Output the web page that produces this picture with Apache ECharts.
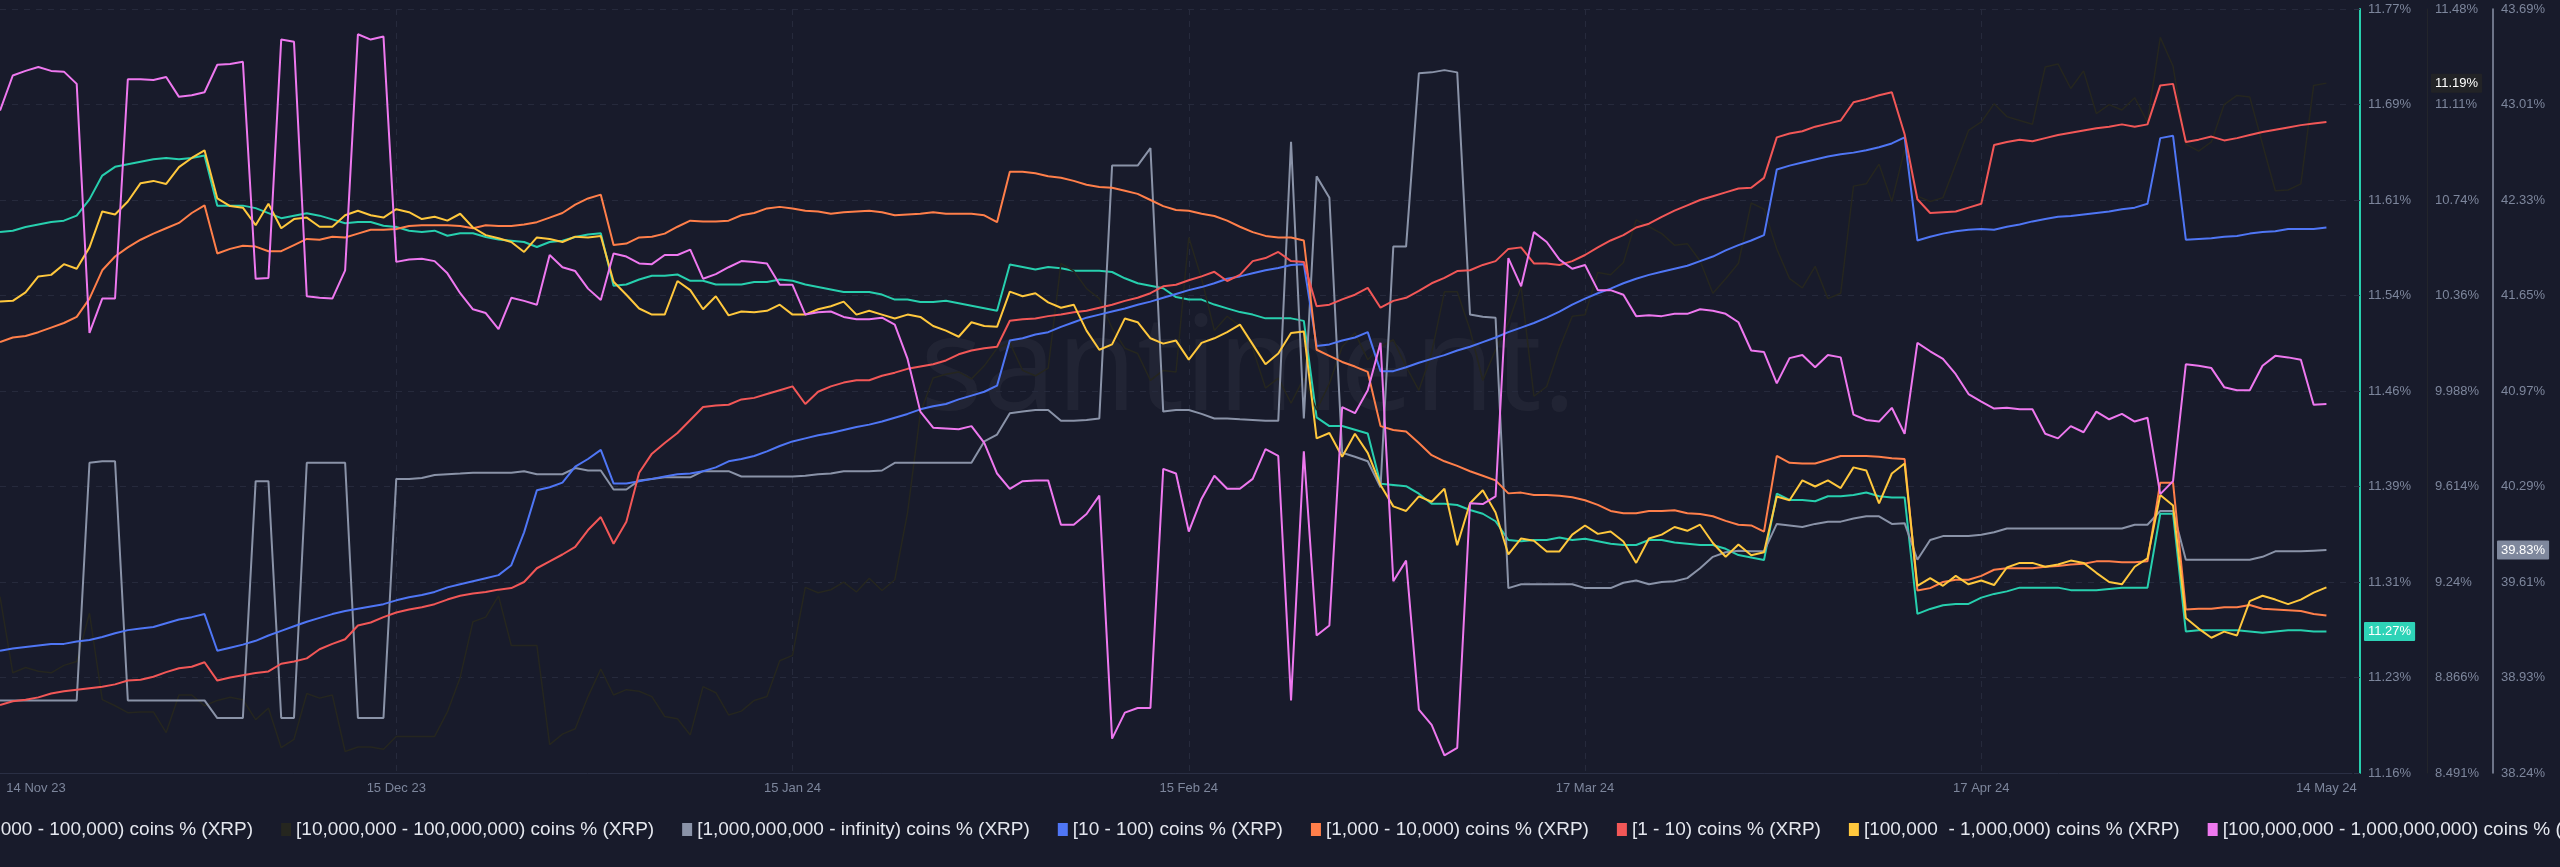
<!DOCTYPE html>
<html><head><meta charset="utf-8">
<script src="https://cdn.jsdelivr.net/npm/echarts@6/dist/echarts.min.js"></script>
<style>html,body{margin:0;padding:0;background:#181b2b;overflow:hidden}#c{width:2560px;height:867px}</style>
</head><body><div id="c"></div>
<script>
// ---------- categories (daily, from 14 Nov 2023) ----------
const START = Date.UTC(2023, 10, 14);
const DAY_COUNT = 185;
const categories = [];
for (let i = 0; i < DAY_COUNT; i++) {
  const d = new Date(START + i * 86400000);
  categories.push(d.toISOString().slice(0, 10));
}
const xTickDays = [0, 31, 62, 93, 124, 155, 182];
const xTickLabels = ['14 Nov 23', '15 Dec 23', '15 Jan 24', '15 Feb 24', '17 Mar 24', '17 Apr 24', '14 May 24'];

// ---------- axis tick labels ----------
const tealTicks = ['11.16%', '11.23%', '11.31%', '11.39%', '11.46%', '11.54%', '11.61%', '11.69%', '11.77%'];
const darkTicks = ['8.491%', '8.866%', '9.24%', '9.614%', '9.988%', '10.36%', '10.74%', '11.11%', '11.48%'];
const grayTicks = ['38.24%', '38.93%', '39.61%', '40.29%', '40.97%', '41.65%', '42.33%', '43.01%', '43.69%'];

// ---------- series names ----------
const names = [
  '[10,000 - 100,000) coins % (XRP)',
  '[10,000,000 - 100,000,000) coins % (XRP)',
  '[1,000,000,000 - infinity) coins % (XRP)',
  '[10 - 100) coins % (XRP)',
  '[1,000 - 10,000) coins % (XRP)',
  '[1 - 10) coins % (XRP)',
  '[100,000  - 1,000,000) coins % (XRP)',
  '[100,000,000 - 1,000,000,000) coins % (XRP)'
];

// ---------- values (% of supply, visible axes) ----------
const teal = [
11.592,11.593,11.596,11.598,11.600,11.601,11.605,11.618,11.637,11.644,
11.646,11.648,11.650,11.651,11.650,11.651,11.653,11.613,11.613,11.613,
11.611,11.607,11.603,11.605,11.607,11.605,11.602,11.599,11.600,11.600,
11.597,11.596,11.593,11.592,11.593,11.589,11.591,11.591,11.588,11.586,
11.585,11.584,11.580,11.584,11.585,11.588,11.590,11.591,11.549,11.550,
11.554,11.557,11.557,11.558,11.553,11.553,11.550,11.550,11.550,11.552,
11.552,11.554,11.553,11.550,11.548,11.546,11.544,11.544,11.544,11.542,
11.538,11.538,11.536,11.536,11.537,11.535,11.533,11.531,11.529,11.566,
11.564,11.562,11.564,11.563,11.561,11.561,11.561,11.560,11.555,11.551,
11.549,11.547,11.540,11.538,11.538,11.534,11.531,11.528,11.526,11.523,
11.523,11.523,11.521,11.444,11.437,11.437,11.434,11.431,11.391,11.390,
11.389,11.383,11.375,11.375,11.374,11.370,11.367,11.361,11.346,11.345,
11.346,11.346,11.348,11.346,11.347,11.345,11.343,11.342,11.342,11.346,
11.346,11.344,11.343,11.342,11.342,11.339,11.334,11.332,11.330,11.383,
11.378,11.378,11.377,11.381,11.381,11.382,11.384,11.381,11.380,11.380,
11.287,11.291,11.294,11.295,11.295,11.300,11.303,11.305,11.308,11.308,
11.308,11.308,11.306,11.306,11.306,11.307,11.308,11.308,11.308,11.367,
11.367,11.273,11.274,11.274,11.274,11.274,11.273,11.272,11.273,11.274,
11.274,11.273,11.273];

const dark = [
9.181,8.883,8.904,8.889,8.883,8.912,8.927,9.116,8.778,8.754,
8.727,8.730,8.730,8.649,8.796,8.796,8.754,8.775,8.787,8.778,
8.700,8.745,8.590,8.623,8.802,8.784,8.796,8.575,8.593,8.593,
8.584,8.634,8.634,8.634,8.634,8.730,8.865,9.083,9.101,9.184,
8.990,8.990,8.990,8.602,8.643,8.664,8.790,8.898,8.796,8.817,
8.811,8.790,8.712,8.703,8.640,8.829,8.805,8.718,8.733,8.775,
8.790,8.930,8.951,9.217,9.196,9.208,9.238,9.199,9.253,9.205,
9.247,9.510,9.899,10.036,10.051,10.060,10.033,10.084,10.153,10.174,
10.066,10.045,10.075,10.485,10.455,10.386,10.347,10.231,10.153,10.132,
10.027,10.066,10.060,10.586,10.425,10.222,10.278,10.240,10.153,9.997,
10.036,9.938,10.036,9.911,10.015,10.159,10.213,10.108,10.159,10.186,
10.081,9.988,10.135,10.374,10.374,10.225,10.027,10.147,10.252,10.395,
9.965,10.003,10.153,10.278,10.284,10.449,10.440,10.488,10.655,10.628,
10.601,10.556,10.562,10.494,10.368,10.425,10.485,10.721,10.697,10.541,
10.425,10.389,10.473,10.347,10.368,10.787,10.796,10.873,10.727,10.930,
10.748,10.727,10.742,10.873,11.005,11.038,11.109,11.059,11.044,11.029,
11.253,11.265,11.169,11.238,11.071,11.106,11.085,11.133,11.038,11.369,
11.256,10.951,10.924,10.960,11.106,11.142,11.136,10.951,10.769,10.772,
10.796,11.181,11.190];

const gray = [
38.758,38.758,38.758,38.758,38.758,38.758,38.758,40.453,40.464,40.464,
38.758,38.758,38.758,38.758,38.758,38.758,38.758,38.632,38.632,38.632,
40.322,40.322,38.632,38.632,40.453,40.453,40.453,40.453,38.632,38.632,
38.632,40.338,40.338,40.344,40.366,40.371,40.376,40.382,40.382,40.382,
40.382,40.393,40.371,40.371,40.371,40.415,40.398,40.398,40.262,40.262,
40.327,40.338,40.349,40.349,40.349,40.393,40.393,40.393,40.355,40.355,
40.355,40.355,40.355,40.360,40.371,40.376,40.393,40.393,40.393,40.398,
40.453,40.453,40.453,40.453,40.453,40.453,40.453,40.605,40.654,40.807,
40.818,40.829,40.829,40.752,40.752,40.758,40.769,42.573,42.573,42.573,
42.698,40.818,40.829,40.829,40.802,40.769,40.769,40.763,40.758,40.752,
40.752,42.742,40.769,42.496,42.344,40.524,40.496,40.464,40.278,41.995,
41.995,43.232,43.238,43.254,43.238,41.510,41.494,41.488,39.559,39.586,
39.586,39.586,39.586,39.586,39.559,39.559,39.559,39.597,39.613,39.586,
39.603,39.608,39.630,39.701,39.782,39.815,39.826,39.821,39.821,40.017,
40.006,39.995,40.017,40.033,40.033,40.055,40.071,40.071,40.017,40.022,
39.761,39.902,39.930,39.930,39.930,39.940,39.957,39.984,39.984,39.984,
39.984,39.984,39.984,39.984,39.984,39.984,39.984,40.011,40.011,40.109,
40.109,39.761,39.761,39.761,39.761,39.761,39.761,39.782,39.821,39.821,
39.821,39.826,39.830];

// ---------- series whose own axes are hidden (relative level, 0-100 of their axis) ----------
const blue = [
16.0,16.3,16.5,16.7,16.9,16.9,17.2,17.4,17.8,18.3,
18.7,18.9,19.1,19.6,20.1,20.4,20.8,16.0,16.4,16.8,
17.3,18.0,18.6,19.2,19.8,20.3,20.8,21.2,21.5,21.8,
22.1,22.6,23.0,23.3,23.7,24.3,24.7,25.1,25.5,25.9,
27.2,31.5,37.0,37.4,38.0,40.1,41.1,42.3,37.9,37.9,
38.2,38.5,38.8,39.1,39.2,39.5,40.0,40.8,41.1,41.5,
42.1,42.8,43.4,43.8,44.2,44.5,44.9,45.3,45.6,46.0,
46.5,47.0,47.6,48.0,48.3,48.9,49.4,49.9,50.7,56.6,
56.9,57.4,57.7,58.4,59.0,59.6,60.0,60.4,60.8,61.3,
61.7,62.2,62.7,63.2,63.6,64.1,64.7,65.0,65.4,65.8,
66.1,66.5,66.6,55.9,56.1,56.6,57.0,57.7,52.6,52.6,
53.1,53.7,54.2,54.7,55.3,55.8,56.4,57.0,57.7,58.3,
58.9,59.6,60.4,61.3,62.1,62.8,63.4,64.1,64.7,65.2,
65.6,66.0,66.4,67.0,67.6,68.4,69.1,69.7,70.4,79.0,
79.5,79.9,80.3,80.7,81.0,81.2,81.5,81.9,82.4,83.2,
69.7,70.2,70.6,70.9,71.1,71.2,71.1,71.5,71.8,72.2,
72.5,72.8,72.9,73.1,73.3,73.5,73.8,74.0,74.5,83.1,
83.4,69.8,69.9,70.0,70.2,70.3,70.6,70.8,70.9,71.2,
71.2,71.2,71.4];

const orange = [
56.4,57.0,57.2,57.7,58.3,58.9,59.7,62.1,65.8,67.6,
68.8,69.8,70.6,71.3,72.0,73.3,74.3,68.0,68.6,69.0,
68.9,68.3,68.3,69.1,69.9,69.8,70.2,70.1,70.6,71.1,
71.1,71.2,71.6,71.7,71.7,71.7,71.6,71.3,71.7,71.6,
71.6,71.8,72.1,72.7,73.3,74.4,75.2,75.7,69.1,69.3,
70.1,70.2,70.6,71.5,72.3,72.2,72.2,72.3,73.0,73.3,
73.9,74.1,73.9,73.6,73.5,73.2,73.4,73.5,73.6,73.4,
73.0,73.1,73.2,73.4,73.2,73.2,73.2,73.0,72.1,78.7,
78.7,78.5,78.1,77.9,77.5,77.0,76.7,76.6,76.2,75.8,
75.0,74.2,73.7,73.6,73.2,72.9,72.3,71.5,70.8,70.3,
70.1,70.1,69.7,55.4,54.6,53.8,53.2,52.5,45.4,44.9,
44.7,43.2,41.6,40.8,40.2,39.5,38.9,38.3,36.6,36.7,
36.4,36.4,36.3,36.1,35.7,35.1,34.3,34.0,34.0,34.3,
34.3,34.4,34.0,33.9,33.6,33.0,32.5,32.4,31.6,41.5,
40.6,40.5,40.5,41.0,41.5,41.5,41.5,41.4,41.2,41.1,
23.9,24.2,25.0,25.3,25.3,25.8,26.6,26.8,26.8,26.8,
27.0,27.1,27.3,27.4,27.7,27.7,27.6,27.6,27.7,38.0,
38.0,21.4,21.5,21.5,21.7,21.7,22.0,21.5,21.4,21.3,
21.2,20.8,20.6];

const red = [
8.9,9.4,9.6,9.9,10.4,10.7,10.9,11.1,11.3,11.6,
12.1,12.2,12.6,13.2,13.7,13.9,14.5,12.1,12.5,12.8,
13.1,13.3,14.3,14.6,15.0,16.2,16.9,17.5,19.3,19.7,
20.4,21.0,21.4,21.7,22.1,22.7,23.2,23.5,23.7,24.0,
24.2,25.0,26.8,27.7,28.6,29.6,31.8,33.5,30.0,32.9,
39.3,41.8,43.2,44.5,46.2,47.9,48.1,48.2,48.9,49.1,
49.6,50.1,50.6,48.3,49.9,50.6,51.1,51.4,51.4,52.0,
52.4,52.9,53.2,53.5,54.0,54.8,55.3,55.6,55.8,59.2,
59.4,59.5,59.8,60.0,60.3,60.5,60.9,61.3,61.8,62.2,
62.8,63.7,63.9,64.5,65.0,65.6,64.4,65.2,67.0,67.4,
68.2,67.0,66.9,61.1,61.3,62.0,62.6,63.5,60.9,61.8,
62.2,63.1,64.1,64.8,65.7,65.8,66.5,67.0,68.6,68.8,
66.7,66.7,66.5,67.0,67.8,68.8,69.7,70.4,71.4,71.9,
72.8,73.6,74.3,75.0,75.5,76.0,76.5,76.6,77.9,83.2,
83.7,84.0,84.6,85.0,85.4,87.8,88.2,88.7,89.1,83.6,
75.1,73.3,73.4,73.5,74.0,74.5,82.2,82.6,82.9,82.7,
83.1,83.5,83.8,84.1,84.4,84.6,84.9,84.6,84.9,90.0,
90.2,82.6,82.9,83.3,82.8,83.1,83.5,83.9,84.2,84.5,
84.8,85.0,85.2];

const yellow = [
61.7,61.8,62.9,65.0,65.2,66.6,66.0,68.8,73.5,73.1,
74.8,77.2,77.5,77.1,79.3,80.5,81.5,75.2,74.2,74.0,
71.7,74.5,71.3,72.5,72.7,71.5,71.5,73.0,73.6,73.0,
72.7,73.8,73.4,72.5,72.8,72.3,73.2,71.4,70.4,70.0,
69.5,68.2,70.1,69.9,69.5,70.2,70.1,70.3,64.3,62.6,
60.8,60.0,60.0,64.4,63.2,60.7,62.4,59.9,60.4,60.3,
60.5,61.3,60.0,60.0,60.7,61.1,61.7,60.0,60.5,60.0,
59.5,60.0,59.7,58.5,57.9,57.1,59.0,58.5,58.4,63.0,
62.4,62.8,61.6,60.9,61.3,57.9,55.4,56.1,59.5,59.0,
56.9,56.2,56.6,54.1,56.3,56.9,57.7,58.7,56.1,53.5,
54.9,57.6,57.8,43.8,44.5,41.4,44.4,41.9,37.7,34.9,
34.3,36.2,35.5,37.2,29.8,35.3,37.0,34.1,28.6,30.7,
30.4,29.0,29.0,31.2,32.4,31.3,31.6,30.3,27.5,30.7,
31.2,32.2,31.7,32.5,30.1,28.3,29.9,28.5,28.9,36.2,
35.7,38.3,37.5,38.3,37.3,40.0,39.6,35.3,39.2,40.5,
24.5,25.5,24.5,25.8,24.7,25.2,24.6,26.9,27.5,27.5,
27.0,27.3,27.8,27.5,26.2,25.0,24.7,27.0,28.1,36.4,
35.0,20.3,18.9,17.7,18.5,18.0,22.5,23.2,22.7,22.1,
22.7,23.6,24.3];

const pink = [
86.7,91.3,91.9,92.4,91.9,91.8,90.2,57.6,62.1,62.1,
90.8,90.8,90.7,91.1,88.5,88.7,89.1,92.7,92.8,93.1,
64.7,64.8,96.0,95.7,62.4,62.2,62.1,65.8,96.7,96.0,
96.4,66.9,67.2,67.3,67.0,65.4,62.8,60.7,60.2,58.1,
62.2,61.8,61.3,67.8,66.2,65.7,63.4,61.9,68.0,67.6,
66.7,66.6,67.8,67.8,68.5,64.7,65.3,66.2,67.0,66.9,
66.7,63.9,63.9,60.0,60.3,60.4,59.7,59.4,59.4,59.6,
58.7,54.2,47.3,45.2,45.1,45.0,45.4,43.2,39.2,37.2,
38.2,38.3,38.3,32.5,32.5,33.9,36.3,4.5,7.9,8.5,
8.5,39.8,39.2,31.6,35.9,38.9,37.2,37.2,38.5,42.4,
41.5,9.5,42.1,18.0,19.3,47.9,47.1,50.1,56.3,25.1,
27.8,8.3,6.3,2.3,3.3,35.3,35.2,36.2,67.4,63.7,
70.8,69.5,67.2,66.0,66.5,63.2,63.2,62.6,59.8,59.9,
59.8,60.1,60.1,60.7,60.5,60.1,59.0,55.3,55.1,51.0,
54.3,54.7,53.1,54.7,54.4,46.9,46.2,46.0,47.8,44.4,
56.3,55.2,54.2,52.2,49.6,48.6,47.7,47.8,47.6,47.6,
44.4,43.8,45.4,44.6,47.3,46.3,47.0,46.0,46.5,36.5,
38.2,53.5,53.3,53.0,50.5,50.1,50.1,53.3,54.6,54.4,
54.1,48.2,48.3];

// ---------- styling ----------
const colors = ['#27cfae', '#25261f', '#8a93a8', '#4f76f5', '#ff7f4a', '#f25757', '#ffc83d', '#ee78ef'];
const BG = '#181b2b';
const FONT = '"Liberation Sans", Arial, Helvetica, sans-serif';
const LABEL_COLOR = '#7d869c';
const GRID_LINE = '#262a3c';

function tickFormatter(min, step, labels) {
  return function (v) {
    const i = Math.round((v - min) / step);
    return labels[i] !== undefined ? labels[i] : '';
  };
}
function lastPointer(value, digits, bg, fg) {
  return {
    show: true, type: 'line', value: value, status: 'show', triggerTooltip: false,
    lineStyle: { opacity: 0 },
    label: {
      show: true, backgroundColor: bg, color: fg, fontSize: 13, fontFamily: FONT,
      padding: [3, 4, 3, 4], margin: 4, borderRadius: 1,
      formatter: function (p) { return Number(p.value).toFixed(digits) + '%'; }
    },
    handle: { show: false }
  };
}
function visAxis(min, max, labels, offset, lineColor, lineWidth, extra) {
  const step = (max - min) / 8;
  return Object.assign({
    type: 'value', position: 'right', offset: offset, min: min, max: max, interval: step,
    axisLine: { show: true, lineStyle: { color: lineColor, width: lineWidth } },
    axisTick: { show: false },
    axisLabel: { color: LABEL_COLOR, fontSize: 13, fontFamily: FONT, margin: 8, formatter: tickFormatter(min, step, labels) },
    splitLine: { show: false }
  }, extra || {});
}

const valueSets = [teal, dark, gray, blue, orange, red, yellow, pink];
const axisIdx = [0, 1, 2, 3, 3, 3, 3, 3];
const widths = [2, 1.5, 2, 2, 2, 2, 2, 2];

const chart = echarts.init(document.getElementById('c'), null, { renderer: 'canvas' });
chart.setOption({
  backgroundColor: BG,
  animation: false,
  textStyle: { fontFamily: FONT },
  grid: { left: 0, right: 208, top: 9, bottom: 94, containLabel: false },
  graphic: [{
    type: 'text', left: 920, top: 306, silent: true, z: 0,
    style: { text: 'santiment.', font: '400 132px "Open Sans", "Noto Sans", sans-serif', fill: 'rgba(255,255,255,0.045)' }
  }],
  legend: {
    left: -51, top: 815, width: 6000, orient: 'horizontal',
    icon: 'rect', itemWidth: 10, itemHeight: 13, itemGap: 28,
    textStyle: { color: '#e4e7ee', fontSize: 19, fontFamily: FONT },
    data: names
  },
  xAxis: {
    type: 'category', data: categories, boundaryGap: false,
    axisLine: { show: true, lineStyle: { color: '#2a2f44', width: 1 } },
    axisTick: { show: false },
    axisLabel: {
      color: LABEL_COLOR, fontSize: 13, fontFamily: FONT, margin: 9,
      interval: function (i) { return xTickDays.indexOf(i) >= 0; },
      formatter: function (val, i) {
        const k = xTickDays.indexOf(i);
        if (k < 0) return '';
        return k === 0 ? '{first|' + xTickLabels[k] + '}' : xTickLabels[k];
      },
      rich: { first: { padding: [0, 0, 0, 72], color: LABEL_COLOR, fontSize: 13, fontFamily: FONT } }
    },
    splitLine: {
      show: true,
      interval: function (i) { return i > 0 && i < 182 && xTickDays.indexOf(i) >= 0; },
      lineStyle: { color: GRID_LINE, type: [6, 6] }
    }
  },
  yAxis: [
    visAxis(11.16, 11.77, tealTicks, 8, '#27cfae', 2, {
      axisTick: { show: true, inside: true, length: 6, lineStyle: { color: '#2c3145' } },
      splitLine: { show: true, lineStyle: { color: GRID_LINE, type: [6, 6] } },
      axisPointer: lastPointer(teal[teal.length - 1], 2, '#2ed3b7', '#ffffff')
    }),
    visAxis(8.491, 11.48, darkTicks, 75, '#23252b', 1, {
      axisPointer: lastPointer(dark[dark.length - 1], 2, '#222326', '#ffffff')
    }),
    visAxis(38.24, 43.69, grayTicks, 141, '#8a93a8', 1.5, {
      axisPointer: lastPointer(gray[gray.length - 1], 2, '#7f889d', '#ffffff')
    }),
    { type: 'value', show: false, min: 0, max: 100 }
  ],
  series: names.map(function (n, i) {
    return {
      name: n, type: 'line', yAxisIndex: axisIdx[i], data: valueSets[i],
      symbol: 'none', showSymbol: false, smooth: false, z: 2 + i,
      itemStyle: { color: colors[i] },
      lineStyle: { color: colors[i], width: widths[i] },
      emphasis: { disabled: true }
    };
  })
});
</script></body></html>
